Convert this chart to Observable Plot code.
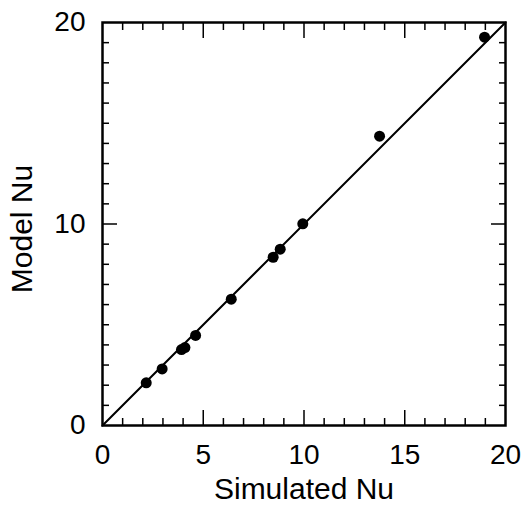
<!DOCTYPE html>
<html>
<head>
<meta charset="utf-8">
<script src="https://cdn.jsdelivr.net/npm/d3@7"></script>
<script src="https://cdn.jsdelivr.net/npm/@observablehq/plot@0.6"></script>
<style>
  html, body { margin: 0; padding: 0; background: #fff; }
</style>
</head>
<body>
<div id="chart"></div>
<script>
// Data
const simulatedNu = [2.17, 2.96, 3.92, 4.09, 4.62, 6.39, 8.47, 8.82, 9.94, 13.75, 18.96];
const modelNu     = [2.12, 2.81, 3.77, 3.87, 4.47, 6.27, 8.35, 8.75, 10.01, 14.36, 19.27];
const parityLine  = [0, 20];
const xLabelTicks = [0, 5, 10, 15, 20];
const yLabelTicks = [0, 10, 20];
const minorTicks  = [1, 2, 3, 4, 6, 7, 8, 9, 11, 12, 13, 14, 16, 17, 18, 19];
const yMinorTicks = [1, 2, 3, 4, 5, 6, 7, 8, 9, 11, 12, 13, 14, 15, 16, 17, 18, 19];
const xInnerMajor = [5, 10, 15];
const yInnerMajor = [10];
const xTitle = "Simulated Nu";
const yTitle = "Model Nu";

const points = simulatedNu.map((x, i) => ({x, y: modelNu[i]}));
const none = () => "";

const chart = Plot.plot({
  width: 523,
  height: 514,
  marginLeft: 102,
  marginRight: 18,
  marginTop: 22,
  marginBottom: 89,
  x: {domain: [0, 20]},
  y: {domain: [0, 20]},
  style: {fontFamily: "'Liberation Sans', Arial, Helvetica, sans-serif", fontSize: "28px", color: "#000", background: "#fff"},
  marks: [
    // minor inward ticks on all four sides
    Plot.axisX(minorTicks, {anchor: "bottom", tickSize: -7, tickFormat: none, label: null, strokeWidth: 1.5}),
    Plot.axisX(minorTicks, {anchor: "top", tickSize: -7, tickFormat: none, label: null, strokeWidth: 1.5}),
    Plot.axisY(yMinorTicks, {anchor: "left", tickSize: -7, tickFormat: none, label: null, strokeWidth: 1.5}),
    Plot.axisY(yMinorTicks, {anchor: "right", tickSize: -7, tickFormat: none, label: null, strokeWidth: 1.5}),
    // major inward ticks
    Plot.axisX(xInnerMajor, {anchor: "bottom", tickSize: -15, tickFormat: none, label: null, strokeWidth: 1.5}),
    Plot.axisX(xInnerMajor, {anchor: "top", tickSize: -15, tickFormat: none, label: null, strokeWidth: 1.5}),
    Plot.axisY(yInnerMajor, {anchor: "left", tickSize: -15, tickFormat: none, label: null, strokeWidth: 1.5}),
    Plot.axisY(yInnerMajor, {anchor: "right", tickSize: -15, tickFormat: none, label: null, strokeWidth: 1.5}),
    // tick labels
    Plot.axisX(xLabelTicks, {anchor: "bottom", tickSize: 0, tickPadding: 19, label: null, fontSize: 28}),
    Plot.axisY(yLabelTicks, {anchor: "left", tickSize: 0, tickPadding: 17, label: null, fontSize: 28}),
    // axis titles
    Plot.text([xTitle], {text: d => d, frameAnchor: "bottom", textAnchor: "middle", dy: 73, fontSize: 30, fill: "#000"}),
    Plot.text([yTitle], {text: d => d, frameAnchor: "left", textAnchor: "middle", rotate: -90, dx: -80, dy: 5, fontSize: 30, fill: "#000"}),
    // parity line
    Plot.line(parityLine, {x: d => d, y: d => d, stroke: "#000", strokeWidth: 2}),
    // data points
    Plot.dot(points, {x: "x", y: "y", r: 5.5, fill: "#000", stroke: null}),
    Plot.frame({stroke: "#000", strokeWidth: 2.5})
  ]
});
document.getElementById("chart").appendChild(chart);
</script>
</body>
</html>
